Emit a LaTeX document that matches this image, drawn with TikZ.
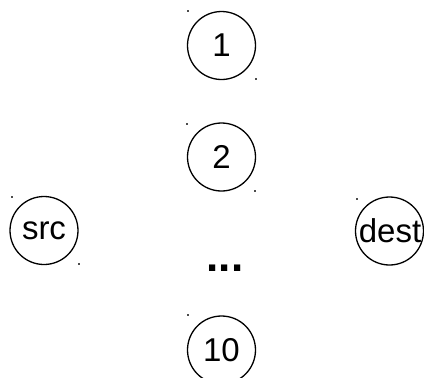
\documentclass[tikz,border=0pt]{standalone}
\usepackage{fontspec}
\setmainfont{Liberation Sans}
\begin{document}
\begin{tikzpicture}[x=1pt,y=-1pt,
  vertex/.style={draw, line width=1.3pt, circle, minimum size=68pt, inner sep=0pt,
                 font=\fontsize{33}{33}\selectfont},
  tick/.style={fill=black!70, inner sep=0pt, minimum size=1.2pt}]
\useasboundingbox (0,0) rectangle (424,378);
\clip (0,0) rectangle (424,378);
% path nodes
\node[vertex] (n1)   at (221.5,45.5) {1};
\node[vertex] (n2)   at (221.5,157)  {2};
\node[vertex] (src)  at (44,230.5)   {src};
\node[vertex] (dest) at (389.5,231)  {dest\hspace*{-1pt}};
\node[vertex] (n10)  at (221.5,350)  {10};
\node (dots) at (225,268) {\fontsize{44}{44}\selectfont\bfseries ...};
% corner marks
\node[tick] (t1a)  at (188,11)  {};
\node[tick] (t1b)  at (256,79)  {};
\node[tick] (t2a)  at (187,124) {};
\node[tick] (t2b)  at (255,191) {};
\node[tick] (tsa)  at (12,197)  {};
\node[tick] (tsb)  at (79,264)  {};
\node[tick] (tda)  at (357,199) {};
\node[tick] (t10a) at (188,315) {};
\end{tikzpicture}
\end{document}
